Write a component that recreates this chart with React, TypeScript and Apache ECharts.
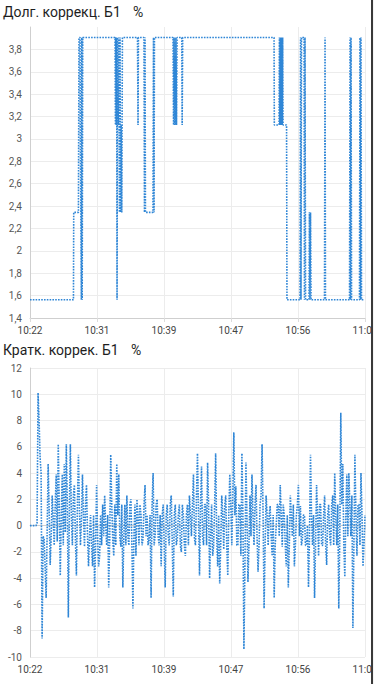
import React, { useEffect, useRef } from "react";
import * as echarts from "echarts";

// ---- labels ----
const longTitle = "Долг. коррекц. Б1";
const shortTitle = "Кратк. коррек. Б1";
const unitLabel = "%";
const timeTickLabels = ["10:22", "10:31", "10:39", "10:47", "10:56", "11:04"];
const tickIntervalSec = 498; // seconds between time ticks
const axisSpanSec = 2490; // 5 tick intervals

// ---- long-term fuel trim (seconds from 10:22:48, %) ----
const longTimes = [
  0, 323, 325, 360, 364, 372, 374, 379, 382, 385, 388, 392,
  632, 635, 638, 641, 644, 647, 651, 656, 660, 665, 669, 673, 678, 682, 687,
  799, 803, 806, 847, 851, 855, 858, 914, 918, 922, 925,
  1063, 1067, 1070, 1074, 1078, 1082, 1085, 1089, 1093, 1128, 1131, 1135,
  1814, 1816, 1851, 1854, 1857, 1860, 1863, 1866, 1869, 1872, 1875, 1878, 1881,
  1907, 1910, 2007, 2011, 2014, 2018, 2037, 2040, 2044, 2048,
  2074, 2077, 2081, 2085, 2089, 2189, 2193, 2196,
  2375, 2379, 2382, 2386, 2390, 2449, 2453, 2457, 2460, 2464, 2483,
];
const longValues = [
  1.5625, 1.5625, 2.34375, 2.34375, 3.90625, 3.90625, 3.125, 3.125, 1.5625, 3.90625, 1.5625, 3.90625,
  3.90625, 3.125, 3.90625, 3.125, 3.90625, 1.5625, 3.90625, 3.125, 3.90625, 2.34375, 3.90625, 2.34375, 3.125, 2.34375, 3.90625,
  3.90625, 3.125, 3.90625, 3.90625, 2.34375, 3.90625, 2.34375, 2.34375, 3.90625, 2.34375, 3.90625,
  3.90625, 3.125, 3.90625, 3.125, 3.90625, 3.125, 3.90625, 3.125, 3.90625, 3.90625, 3.125, 3.90625,
  3.90625, 3.125, 3.125, 3.90625, 3.125, 3.90625, 3.125, 3.90625, 3.125, 3.90625, 3.125, 3.90625, 3.125,
  3.125, 1.5625, 1.5625, 3.90625, 1.5625, 3.90625, 3.90625, 1.5625, 3.90625, 1.5625,
  1.5625, 2.34375, 1.5625, 2.34375, 1.5625, 1.5625, 3.90625, 1.5625,
  1.5625, 3.90625, 1.5625, 3.90625, 1.5625, 1.5625, 3.90625, 1.5625, 3.90625, 1.5625, 1.5625,
];

// ---- short-term fuel trim (one sample every 7.5 s, %) ----
const shortStepSec = 7.5;
const shortValues = [
  0, 0, 0, 0, 0, 0, 0, 0.2, 10.1, 8.0, 5.2, 4.0, -8.6, -0.8, -1.0, -3.2, -5.5, -0.5, 4.7, 1.2,
  -3.0, -0.8, 2.3, 0.5, -1.5, 1.6, 3.9, -1.2, 6.2, 1.5, -3.8, 0.8, 3.9, -1.5, 4.7, -0.5, 6.2, 1.6, -7.0, 1.0,
  6.2, 0.8, -1.5, 2.3, 3.1, -1.0, -3.8, 1.6, 5.4, 1.2, -1.5, 0.5, 3.9, 0.8, -1.6, 1.6, 3.1, -0.8, -3.1, -0.8,
  0.8, -1.5, -3.1, 0.8, -4.7, -1.6, 3.1, -0.8, -3.1, -2.3, 0.8, -1.5, 1.6, -0.8, 2.3, 0, -1.5, 0.8, -4.7, -1.0,
  5.4, 1.6, -1.0, -2.3, 1.6, -1.5, 4.7, 0.8, 3.9, -0.8, -1.6, 1.6, -4.7, -0.8, 1.6, -1.5, 2.3, -0.8, -1.5, 1.6,
  2.0, -1.5, -6.3, -0.8, 1.6, -2.3, 2.0, 0.8, -1.5, 1.6, 0.8, -1.5, -1.0, 1.6, 3.1, -0.8, 0.8, -1.5, -1.0, 0.8,
  -5.5, 1.6, 4.0, -1.5, -0.8, 1.6, 2.0, -0.8, -1.5, 0.8, -3.1, 0.8, 1.6, -1.5, -4.7, 0.8, 1.6, -0.8, -1.5, 1.6,
  2.3, -1.5, -5.4, 0.8, 1.6, -1.5, -1.0, 0.8, 1.6, -1.5, -2.0, 1.6, 0.8, -1.5, -2.3, 0.8, 1.6, -1.5, 2.3, 0.8,
  -0.8, 1.6, 3.9, -1.0, -1.5, 2.3, 5.5, 0.8, -3.8, 1.6, 4.5, -0.8, -1.5, 1.6, 1.6, -1.5, 4.8, 1.6, -4.0, -0.8,
  1.6, -2.3, -1.5, 1.6, 5.5, -0.8, -3.1, 0.8, -4.4, -1.5, 2.3, 0.8, -1.8, 1.6, 2.3, -1.5, -3.8, 0.8, 3.9, 1.6,
  -1.5, 2.3, 7.1, 0.8, 3.0, -1.5, -1.5, 1.6, 1.6, -2.3, 5.5, 0.8, -9.4, -3.1, 4.8, 0.8, -4.3, -1.5, 2.3, -0.8,
  3.9, 0.8, -1.5, 1.6, 3.1, -0.8, -3.5, -1.5, 1.6, 2.3, 6.2, 0.8, -6.3, -1.5, 2.3, 0.8, -1.5, 0.8, 1.5, -0.8,
  -2.3, 0.8, -5.5, -1.5, 0, 1.6, 1.6, -0.8, 3.1, 0.8, -1.6, 1.6, 0.8, -1.5, -3.1, 0.8, -4.7, -1.5, 2.3, 0.8,
  -0.8, 1.6, -3.1, -1.5, 0.8, 1.6, 3.1, -0.8, 1.5, -1.5, -1.0, 0.8, 0.8, -1.5, -1.5, 0, -4.7, -0.8, 5.4, 0.8,
  -1.5, 0.8, -5.5, -1.5, 3.1, 0.8, -2.3, 1.6, 1.6, -1.5, -1.5, 0.8, 2.3, -1.5, -3.0, 0.8, 1.6, -0.8, -1.5, 1.6,
  2.3, -1.5, 4.0, 0.8, -1.5, 1.6, -6.3, -0.8, 8.6, 1.6, 4.7, -1.5, -3.9, 0.8, 3.9, -0.8, 4.0, 1.6, -0.8, 2.3,
  -7.8, -1.5, 5.4, 0.8, -2.3, 1.6, 1.6, -1.5, 4.0, 0.8, -3.1, -1.5, 0.8,
];

const LINE_COLOR = "#2f86d6";

function fmtDecimal(v: number) {
  const r = Math.round(v * 10) / 10;
  return String(r).replace(".", ",");
}

function fmtTime(v: number) {
  const idx = Math.round(v / tickIntervalSec);
  return timeTickLabels[idx] ?? "";
}

function makeXAxis(gridIndex: number) {
  return {
    type: "value",
    gridIndex,
    min: 0,
    max: axisSpanSec,
    interval: tickIntervalSec,
    axisLine: { show: true, lineStyle: { color: "#cfcfcf", width: 1 } },
    axisTick: { show: true, length: 4, lineStyle: { color: "#dcdcdc" } },
    splitLine: { show: true, lineStyle: { color: "#ececec", width: 1 } },
    axisLabel: {
      formatter: fmtTime,
      color: "#444",
      fontSize: 10,
      fontFamily: "Roboto",
      margin: 7,
      showMinLabel: true,
      showMaxLabel: true,
    },
  };
}

export default function App() {
  const ref = useRef<HTMLDivElement>(null);

  useEffect(() => {
    document.body.style.margin = "0";
    if (!ref.current) return;
    const chart = echarts.init(ref.current, undefined, { renderer: "svg" });

    const longData = longTimes.map((t, i) => [t, longValues[i]]);
    const shortData = shortValues.map((v, i) => [i * shortStepSec, v]);

    const titleStyle = { fontSize: 14, fontFamily: "Roboto", fill: "#1e1e1e", verticalAlign: "middle" };
    const lineStyle = { width: 1.6, type: [1.6, 1.2], color: LINE_COLOR };

    chart.setOption({
      animation: false,
      backgroundColor: "#ffffff",
      grid: [
        { left: 30, width: 335, top: 27, height: 291 },
        { left: 30, width: 335, top: 368, height: 289 },
      ],
      xAxis: [makeXAxis(0), makeXAxis(1)],
      yAxis: [
        {
          type: "value",
          gridIndex: 0,
          min: 1.4,
          max: 4.0,
          interval: 0.2,
          axisLine: { show: true, lineStyle: { color: "#cfcfcf" } },
          axisTick: { show: false },
          splitLine: { show: true, showMaxLine: false, lineStyle: { color: "#ececec" } },
          axisLabel: {
            formatter: fmtDecimal,
            color: "#555",
            fontSize: 10,
            fontFamily: "Roboto",
            margin: 8,
            showMaxLabel: false,
          },
        },
        {
          type: "value",
          gridIndex: 1,
          min: -10,
          max: 12,
          interval: 2,
          axisLine: { show: true, lineStyle: { color: "#cfcfcf" } },
          axisTick: { show: false },
          splitLine: { show: true, lineStyle: { color: "#ececec" } },
          axisLabel: {
            formatter: fmtDecimal,
            color: "#555",
            fontSize: 10,
            fontFamily: "Roboto",
            margin: 8,
          },
        },
      ],
      graphic: [
        { type: "text", x: 3, y: 12, style: { ...titleStyle, text: longTitle } },
        { type: "text", x: 133, y: 12, style: { ...titleStyle, text: unitLabel } },
        { type: "text", x: 3, y: 350, style: { ...titleStyle, text: shortTitle } },
        { type: "text", x: 131, y: 350, style: { ...titleStyle, text: unitLabel } },
      ],
      series: [
        {
          type: "line",
          xAxisIndex: 0,
          yAxisIndex: 0,
          data: longData,
          showSymbol: false,
          silent: true,
          color: LINE_COLOR,
          lineStyle,
        },
        {
          type: "line",
          xAxisIndex: 1,
          yAxisIndex: 1,
          data: shortData,
          showSymbol: false,
          silent: true,
          color: LINE_COLOR,
          lineStyle,
        },
      ],
    });

    return () => chart.dispose();
  }, []);

  return (
    <div style={{ position: "relative", width: 374, height: 684, overflow: "hidden", background: "#fff" }}>
      <div ref={ref} style={{ width: 400, height: 684 }} />
      <div style={{ position: "absolute", left: 371, top: 0, width: 2, height: 684, background: "#3a3a3a" }} />
      <div style={{ position: "absolute", left: 373, top: 0, width: 1, height: 684, background: "#f4f4f4" }} />
    </div>
  );
}
